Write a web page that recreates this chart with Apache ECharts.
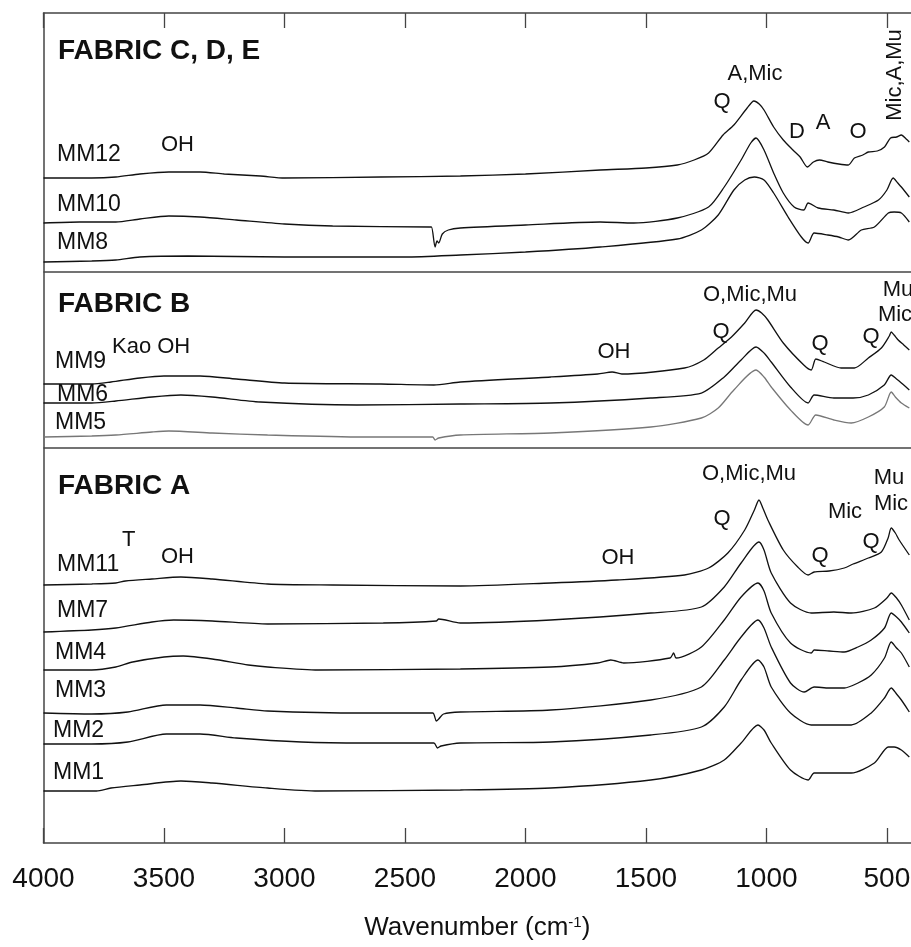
<!DOCTYPE html>
<html>
<head>
<meta charset="UTF-8">
<title>FTIR spectra</title>
<script src="https://cdn.jsdelivr.net/npm/echarts@6/dist/echarts.min.js"></script>
<style>
  html, body { margin: 0; padding: 0; background: #fff; }
  #chart { width: 911px; height: 947px; }
</style>
</head>
<body>
<div id="chart"></div>
<script>
// wavenumber (cm-1), offset absorbance (a.u.)
var mm12 = [[4000,665],[3800,665],[3700,666],[3600,669],[3480,671],[3350,671],[3250,669],[3100,667],[3000,665],[2600,666],[2270,667],[2000,669],[1690,673],[1500,675],[1370,678],[1300,683],[1240,690],[1180,708],[1135,718],[1080,735],[1052,742],[1030,739],[1010,733],[970,716],[930,703],[890,693],[860,686],[830,676],[805,681],[780,683],[745,681],[700,679],[660,678],[635,685],[600,688],[577,691],[540,692],[510,696],[485,705],[460,706],[440,708],[420,704],[407,701]];
var mm10 = [[4000,620],[3850,621],[3700,621],[3600,624],[3480,627],[3350,626],[3200,623],[3000,619],[2800,617],[2400,616],[2390,616],[2375,596],[2367,602],[2360,600],[2345,609],[2320,613],[2270,615],[2000,618],[1690,621],[1550,620],[1370,625],[1240,636],[1175,656],[1105,683],[1065,700],[1043,705],[1010,693],[970,670],[930,650],[885,636],[845,633],[827,640],[785,635],[720,633],[660,630],[595,636],[535,643],[500,653],[474,665],[455,660],[440,656],[407,646]];
var mm8 = [[4000,581],[3800,582],[3700,583],[3600,586],[3400,587],[3000,586],[2500,586],[2270,588],[2000,591],[1690,596],[1370,604],[1270,613],[1200,628],[1135,653],[1090,663],[1050,666],[1010,663],[970,650],[910,626],[855,606],[827,600],[802,610],[745,608],[700,606],[660,603],[606,613],[552,616],[494,630],[470,631],[440,630],[407,621]];
var mm9 = [[4000,459],[3800,459],[3720,461],[3600,465],[3500,467],[3350,467],[3200,464],[3000,460],[2600,459],[2380,458],[2270,461],[1895,466],[1700,469],[1640,471],[1600,469],[1340,475],[1260,483],[1200,495],[1145,506],[1090,520],[1043,533],[1020,530],[994,523],[930,500],[845,478],[814,473],[795,484],[760,481],[690,475],[635,475],[577,485],[523,495],[490,507],[482,511],[470,508],[453,503],[430,498],[407,493]];
var mm6 = [[4000,440],[3800,440],[3700,442],[3550,446],[3430,448],[3300,446],[3100,441],[2700,438],[2270,439],[1895,440],[1480,445],[1270,450],[1175,466],[1105,483],[1043,496],[1010,490],[980,481],[900,456],[827,440],[802,448],[720,445],[640,445],[577,448],[511,458],[482,468],[460,464],[440,460],[407,453]];
var mm5 = [[4000,406],[3800,407],[3700,408],[3550,411],[3480,412],[3300,410],[3070,408],[2670,406],[2385,406],[2375,403],[2360,405],[2270,408],[1895,410],[1480,416],[1270,425],[1200,435],[1135,453],[1043,473],[1010,466],[980,456],[900,433],[827,418],[795,428],[720,423],[648,420],[577,426],[511,436],[482,451],[465,446],[440,440],[407,435]];
var mm11 = [[4000,258],[3800,259],[3700,260],[3660,262],[3550,264],[3430,266],[3300,264],[3070,259],[2800,258],[2270,257],[1895,260],[1620,263],[1340,268],[1240,275],[1160,290],[1090,313],[1050,333],[1031,343],[1015,335],[994,323],[930,293],[870,276],[827,268],[802,271],[740,272],[677,275],[640,279],[577,285],[523,291],[495,305],[482,315],[465,310],[449,303],[407,288]];
var mm7 = [[4000,211],[3800,213],[3700,215],[3550,221],[3460,223],[3300,222],[3070,219],[2590,220],[2370,222],[2360,224],[2270,220],[1895,223],[1480,230],[1270,236],[1175,256],[1105,280],[1031,301],[1010,293],[980,270],[900,240],[814,230],[720,231],[648,230],[552,235],[500,245],[482,250],[460,245],[440,238],[407,223]];
var mm4 = [[4000,173],[3800,173],[3700,176],[3630,181],[3500,186],[3420,187],[3300,184],[3150,178],[3070,176],[2860,173],[2270,174],[1895,176],[1700,180],[1646,183],[1592,180],[1400,185],[1385,190],[1375,185],[1270,196],[1175,223],[1105,246],[1035,260],[1010,252],[980,230],[900,200],[814,190],[802,193],[740,192],[677,191],[620,196],[565,203],[510,215],[482,230],[460,226],[440,221],[407,210]];
var mm3 = [[4000,130],[3800,129],[3650,131],[3490,138],[3350,138],[3200,135],[3070,132],[2670,130],[2385,130],[2370,122],[2360,124],[2340,129],[2270,131],[1895,133],[1480,143],[1270,156],[1175,183],[1105,206],[1035,223],[1010,215],[980,196],[900,160],[843,151],[802,156],[740,155],[677,155],[620,160],[565,168],[510,185],[482,201],[460,195],[440,190],[407,176]];
var mm2 = [[4000,99],[3800,99],[3650,101],[3490,109],[3350,109],[3200,105],[2930,101],[2670,100],[2380,100],[2365,95],[2350,97],[2270,100],[1895,101],[1480,108],[1270,116],[1175,136],[1105,163],[1035,183],[1010,176],[980,156],[900,130],[814,118],[740,118],[648,118],[565,130],[510,145],[482,155],[460,149],[440,143],[407,131]];
var mm1 = [[4000,52],[3780,52],[3720,55],[3600,58],[3430,62],[3300,60],[3070,55],[2860,52],[2270,53],[1895,55],[1480,63],[1270,73],[1175,83],[1105,100],[1035,118],[1010,113],[980,100],[900,73],[827,63],[802,70],[740,70],[648,70],[552,80],[494,96],[470,96],[440,93],[407,86]];

var seriesNames = ['MM12','MM10','MM8','MM9','MM6','MM5','MM11','MM7','MM4','MM3','MM2','MM1'];
var seriesData = [mm12, mm10, mm8, mm9, mm6, mm5, mm11, mm7, mm4, mm3, mm2, mm1];
var tickValues = [4000, 3500, 3000, 2500, 2000, 1500, 1000, 500];
var panelBreaks = [571, 395];

var FONT = "'Liberation Sans', Arial, sans-serif";
var chart = echarts.init(document.getElementById('chart'));

// text labels placed on the figure
function txt(t, x, y, size, bold, align, rot) {
  return {
    type: 'text', x: x, y: y, rotation: rot || 0, silent: true,
    style: {
      text: t, fill: '#111',
      font: (bold ? 'bold ' : '') + size + 'px ' + FONT,
      textAlign: align || 'left', textVerticalAlign: 'middle'
    }
  };
}

var labels = [
  txt('FABRIC C, D, E', 58, 51, 28, true),
  txt('MM12', 57, 155, 23), txt('OH', 161, 145, 22),
  txt('MM10', 57, 205, 23), txt('MM8', 57, 243, 23),
  txt('A,Mic', 755, 74, 22, false, 'center'), txt('Q', 722, 102, 22, false, 'center'),
  txt('D', 797, 132, 22, false, 'center'), txt('A', 823, 123, 22, false, 'center'),
  txt('O', 858, 132, 22, false, 'center'),
  txt('Mic,A,Mu', 895, 75, 22, false, 'center', Math.PI / 2),

  txt('FABRIC B', 58, 304, 28, true),
  txt('MM9', 55, 362, 23), txt('Kao OH', 112, 347, 22),
  txt('MM6', 57, 395, 23), txt('MM5', 55, 423, 23),
  txt('O,Mic,Mu', 750, 295, 22, false, 'center'),
  txt('Mu', 898, 290, 22, false, 'center'), txt('Mic', 895, 315, 22, false, 'center'),
  txt('Q', 721, 332, 22, false, 'center'), txt('Q', 820, 344, 22, false, 'center'),
  txt('Q', 871, 337, 22, false, 'center'), txt('OH', 614, 352, 22, false, 'center'),

  txt('FABRIC A', 58, 486, 28, true),
  txt('T', 122, 540, 22), txt('MM11', 57, 565, 23), txt('OH', 161, 557, 22),
  txt('MM7', 57, 611, 23), txt('MM4', 55, 653, 23), txt('MM3', 55, 691, 23),
  txt('MM2', 53, 731, 23), txt('MM1', 53, 773, 23),
  txt('O,Mic,Mu', 749, 474, 22, false, 'center'),
  txt('Q', 722, 519, 22, false, 'center'), txt('Mic', 845, 512, 22, false, 'center'),
  txt('Mu', 889, 478, 22, false, 'center'), txt('Mic', 891, 504, 22, false, 'center'),
  txt('Q', 871, 542, 22, false, 'center'), txt('Q', 820, 556, 22, false, 'center'),
  txt('OH', 618, 558, 22, false, 'center')
];

var series = seriesData.map(function (d, i) {
  var s = {
    name: seriesNames[i],
    type: 'line',
    data: d,
    showSymbol: false,
    smooth: 0.25,
    silent: true,
    lineStyle: { color: seriesNames[i] === 'MM5' ? '#777' : '#111', width: 1.3 }
  };
  if (i === 0) {
    s.markLine = {
      symbol: 'none', silent: true, label: { show: false },
      lineStyle: { color: '#444', width: 1.5, type: 'solid' },
      data: panelBreaks.map(function (v) { return { yAxis: v }; })
    };
  }
  return s;
});

var axisCommon = {
  type: 'value', min: 400, max: 4000, inverse: true,
  axisLine: { show: true, onZero: false, lineStyle: { color: '#444', width: 1.5 } },
  axisTick: { show: true, inside: true, length: 15, customValues: tickValues,
              lineStyle: { color: '#444', width: 1.3 } },
  splitLine: { show: false }
};

chart.setOption({
  animation: false,
  backgroundColor: '#fff',
  grid: { left: 43.5, right: 0, top: 13, bottom: 104, containLabel: false, outerBoundsMode: 'none' },
  xAxis: [
    Object.assign({}, axisCommon, {
      position: 'bottom',
      name: 'Wavenumber (cm{sup|-1})',
      nameLocation: 'middle',
      nameGap: 72,
      nameTextStyle: {
        fontFamily: FONT, fontSize: 26, color: '#111',
        rich: { sup: { fontFamily: FONT, fontSize: 15, color: '#111', verticalAlign: 'top', lineHeight: 26 } }
      },
      axisLabel: {
        show: true, customValues: tickValues, margin: 22,
        fontFamily: FONT, fontSize: 28, color: '#111',
        formatter: function (v) { return String(v); }
      }
    }),
    Object.assign({}, axisCommon, {
      position: 'top',
      axisLabel: { show: false }
    })
  ],
  yAxis: {
    type: 'value', min: 0, max: 830,
    axisLine: { show: true, lineStyle: { color: '#444', width: 1.5 } },
    axisTick: { show: false }, axisLabel: { show: false }, splitLine: { show: false }
  },
  series: series,
  graphic: labels
});
</script>
</body>
</html>
